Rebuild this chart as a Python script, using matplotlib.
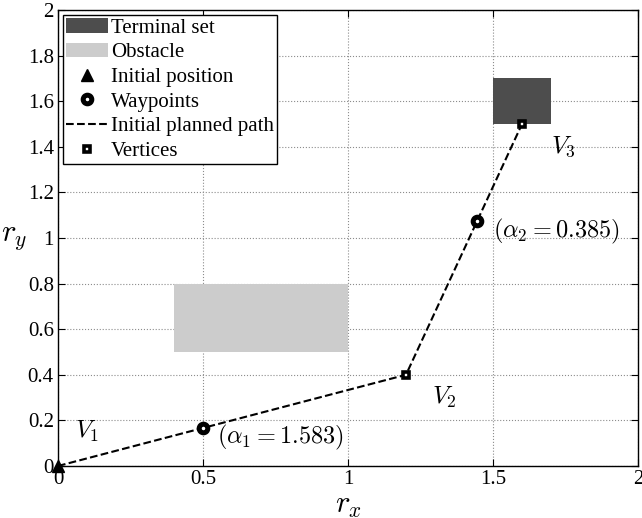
import numpy as np
import matplotlib
matplotlib.use('Agg')
from matplotlib import pyplot as plt
from matplotlib.patches import Rectangle

# data
vert_x = [0, 1.2, 1.6]
vert_y = [0, 0.4, 1.5]
wp_x = [0.5, 1.445]
wp_y = [0.1667, 1.0745]
obstacle = [0.4, 0.5, 0.6, 0.3]   # x, y, w, h
terminal = [1.5, 1.5, 0.2, 0.2]
xticks = [0, 0.5, 1, 1.5, 2]
yticks = [0, 0.2, 0.4, 0.6, 0.8, 1, 1.2, 1.4, 1.6, 1.8, 2]

plt.rcParams['font.family'] = 'serif'
plt.rcParams['font.serif'] = ['Liberation Serif', 'DejaVu Serif']
plt.rcParams['mathtext.fontset'] = 'cm'

fig = plt.figure(figsize=(6.42, 5.18), dpi=100)
ax = fig.add_axes([0.0903, 0.1004, 0.9035, 0.8803])

ax.add_patch(Rectangle(terminal[:2], terminal[2], terminal[3], fc='#4d4d4d', ec='none', label='Terminal set', zorder=2))
ax.add_patch(Rectangle(obstacle[:2], obstacle[2], obstacle[3], fc='#cccccc', ec='none', label='Obstacle', zorder=2))
ax.plot([vert_x[0]], [vert_y[0]], '^', color='k', ms=8, label='Initial position', zorder=5, clip_on=False)
ax.plot(wp_x, wp_y, 'o', mfc='white', mec='k', mew=3.6, ms=6.2, ls='none', label='Waypoints', zorder=5)
ax.plot(vert_x, vert_y, '--', color='k', lw=1.5, label='Initial planned path', zorder=3)
ax.plot(vert_x[1:], vert_y[1:], 's', mfc='white', mec='k', mew=2.6, ms=5, ls='none', label='Vertices', zorder=5)

ax.text(0.06, 0.15, '$V_1$', fontsize=18, va='center')
ax.text(1.29, 0.30, '$V_2$', fontsize=18, va='center')
ax.text(1.70, 1.40, '$V_3$', fontsize=18, va='center')
ax.text(0.55, 0.125, r'$(\alpha_1 = 1.583)$', fontsize=17.5, va='center')
ax.text(1.50, 1.03, r'$(\alpha_2 = 0.385)$', fontsize=17.5, va='center')

ax.set_xlim(0, 2)
ax.set_ylim(0, 2)
ax.set_xticks(xticks)
ax.set_xticklabels([('%g' % v) for v in xticks])
ax.set_yticks(yticks)
ax.set_yticklabels([('%g' % v) for v in yticks])
ax.tick_params(direction='in', top=True, right=True, labelsize=15, length=5, pad=3)
ax.grid(True, ls=':', color='0.55', lw=0.8)
ax.set_axisbelow(True)
for s in ax.spines.values():
    s.set_linewidth(1.0)

ax.set_xlabel('$r_x$', fontsize=22, labelpad=1)
ax.set_ylabel('$r_y$', fontsize=22, rotation=0, labelpad=10, va='center')

leg = ax.legend(loc='upper left', fontsize=15, fancybox=False, edgecolor='k', framealpha=1,
                borderpad=0.15, labelspacing=0.24, handlelength=2.0, handletextpad=0.15,
                borderaxespad=0.25)
leg.get_frame().set_linewidth(1.0)

fig.savefig('out.png', dpi=100)
